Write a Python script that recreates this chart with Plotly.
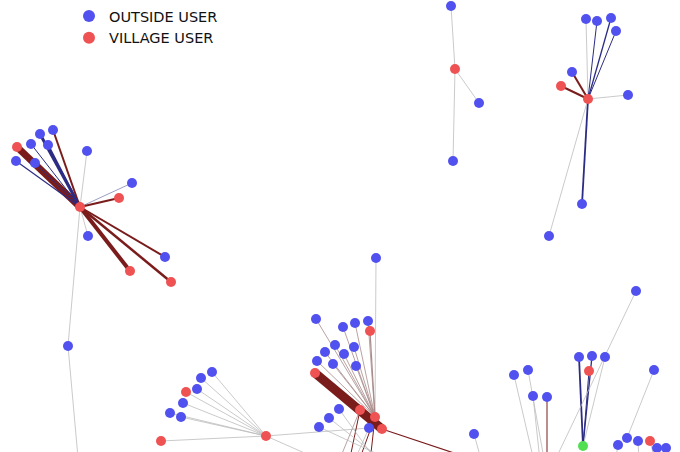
import plotly.graph_objects as go

# ---- nodes (layout positions) ----
node_x = [
    # cluster A (left) 0-15
    80, 17, 16, 40, 53, 31, 48, 35, 87, 132, 119, 88, 165, 130, 171, 68,
    # cluster B (top middle) 16-19
    455, 451, 479, 453,
    # cluster C (top right) 20-29
    588, 586, 597, 611, 616, 572, 561, 628, 582, 549,
    # cluster D (bottom left) 30-38
    266, 212, 201, 186, 197, 183, 170, 181, 161,
    # cluster E (centre) 39-60
    375, 382, 360, 376, 316, 343, 355, 368, 370, 335, 354, 325, 344, 317, 333, 356, 315,
    339, 329, 319, 369, 474,
    # cluster F (bottom right) 61-77
    583, 636, 579, 592, 605, 589, 514, 528, 533, 547, 654, 618, 627, 638, 650, 657, 666,
    # nodes beyond the visible window 78-96
    80, 490, 368, 352, 345, 405, 412, 332, 325, 484, 548, 536, 546, 541, 547, 612, 640, 660, 390,
]
node_y = [
    207, 147, 161, 134, 130, 144, 145, 163, 151, 183, 198, 236, 257, 271, 282, 346,
    69, 6, 103, 161,
    99, 19, 21, 18, 31, 72, 86, 95, 204, 236,
    436, 372, 378, 392, 389, 403, 413, 417, 441,
    417, 429, 410, 258, 319, 327, 323, 321, 331, 345, 347, 352, 354, 361, 364, 366, 373,
    409, 418, 427, 428, 434,
    446, 291, 357, 356, 357, 371, 375, 370, 396, 397, 370, 445, 438, 441, 441, 448, 448,
    480, 465, 480, 480, 482, 478, 470, 478, 462, 470, 475, 470, 470, 470, 470, 480, 480, 480, 480,
]
node_type = (
    ["V", "V", "O", "O", "O", "O", "O", "O", "O", "O", "V", "O", "O", "V", "V", "O"]
    + ["V", "O", "O", "O"]
    + ["V", "O", "O", "O", "O", "O", "V", "O", "O", "O"]
    + ["V", "O", "O", "V", "O", "O", "O", "O", "V"]
    + ["V", "V", "V", "O", "O", "O", "O", "O", "V", "O", "O", "O", "O", "O", "O", "O", "V",
       "O", "O", "O", "O", "O"]
    + ["G", "O", "O", "O", "O", "V", "O", "O", "O", "O", "O", "O", "O", "O", "V", "O", "O"]
    + ["O"] * 19
)

# ---- edges: source, target, weight, kind ----
edge_src = [
    0, 0, 0, 0, 0, 0, 0, 0, 0, 0, 0, 0, 0, 0, 0, 15,
    16, 16, 16,
    20, 20, 20, 20, 20, 20, 20, 20, 20,
    30, 30, 30, 30, 30, 30, 30, 30, 30, 30,
    39, 39, 39, 39, 39, 39, 39, 39, 39, 39, 39, 39, 39, 40, 40, 39, 39, 41, 41, 56, 57, 58, 59, 60,
    61, 61, 61, 61, 62, 67, 68, 69, 70, 71, 72, 74, 75, 76, 77,
]
edge_tgt = [
    1, 2, 3, 4, 5, 6, 7, 8, 9, 10, 11, 12, 13, 14, 15, 78,
    17, 18, 19,
    21, 22, 23, 24, 25, 26, 27, 28, 29,
    31, 32, 33, 34, 35, 36, 37, 38, 59, 86,
    42, 43, 44, 45, 46, 47, 48, 49, 50, 51, 52, 53, 54, 55, 79, 80, 81, 82, 85, 96, 83, 84, 82, 87,
    63, 64, 65, 66, 88, 89, 90, 91, 92, 73, 93, 94, 95, 95, 95,
]
edge_w = [
    7, 1.2, 3, 2, 1, 2, 1, 0.8, 0.9, 2, 0.8, 2, 4, 2.5, 0.8, 0.8,
    0.8, 0.8, 0.8,
    0.8, 1, 1.3, 1, 2, 2, 0.8, 1.8, 0.8,
    0.8, 0.8, 0.8, 0.8, 0.8, 0.8, 0.8, 0.8, 0.8, 0.8,
    0.8, 0.8, 0.8, 0.8, 0.8, 1.2, 0.8, 0.8, 0.8, 0.8, 0.8, 0.8, 0.8, 9, 1.2, 1, 1, 1, 0.8,
    0.8, 0.8, 0.8, 0.8, 0.8,
    1.8, 1.3, 0.8, 1, 0.8, 0.8, 0.8, 0.8, 1, 0.8, 0.8, 0.8, 0.8, 0.8, 0.8,
]
edge_kind = [
    "r", "b", "b", "r", "b", "b", "b", "g", "s", "r", "g", "r", "r", "r", "g", "g",
    "g", "g", "g",
    "g", "b", "b", "b", "r", "r", "g", "b", "g",
    "g", "g", "g", "g", "g", "g", "g", "g", "g", "g",
    "g", "m", "m", "m", "m", "m", "m", "m", "m", "m", "m", "m", "m", "r", "r", "r", "r", "r", "m",
    "g", "g", "g", "g", "g",
    "b", "b", "g", "b", "g", "g", "g", "g", "r", "g", "g", "g", "g", "g", "g",
]

kind_color = {
    "r": "#7a1c1c",
    "b": "#2c2c84",
    "s": "#8f93b8",
    "g": "#bdbdbd",
    "m": "#a88a8a",
}

fig = go.Figure()

for s, t, w, k in zip(edge_src, edge_tgt, edge_w, edge_kind):
    fig.add_trace(go.Scatter(
        x=[node_x[s], node_x[t]], y=[node_y[s], node_y[t]],
        mode="lines", line=dict(color=kind_color[k], width=w),
        hoverinfo="skip", showlegend=False,
    ))

groups = [("O", "OUTSIDE USER", "#5151ef", True),
          ("V", "VILLAGE USER", "#ef5252", True),
          ("G", "OTHER", "#52e052", False)]
for code, name, color, show in groups:
    xs = [x for x, c in zip(node_x, node_type) if c == code]
    ys = [y for y, c in zip(node_y, node_type) if c == code]
    fig.add_trace(go.Scatter(
        x=xs, y=ys, mode="markers", name=name,
        marker=dict(color=color, size=10, line=dict(width=0)),
        showlegend=show,
    ))

fig.update_layout(
    width=680, height=452,
    margin=dict(l=0, r=0, t=0, b=0),
    paper_bgcolor="white", plot_bgcolor="white",
    xaxis=dict(range=[0, 680], visible=False, fixedrange=True),
    yaxis=dict(range=[452, 0], visible=False, fixedrange=True),
    font=dict(family="DejaVu Sans", size=14.5, color="#111111"),
    legend=dict(x=69 / 680, y=1.0, xanchor="left", yanchor="top",
                bgcolor="rgba(0,0,0,0)", itemsizing="constant",
                tracegroupgap=0, font=dict(size=14.5)),
    showlegend=True,
)

fig.write_html("out.html", config={"displayModeBar": False},
               post_script="document.body.style.margin='0px';")
